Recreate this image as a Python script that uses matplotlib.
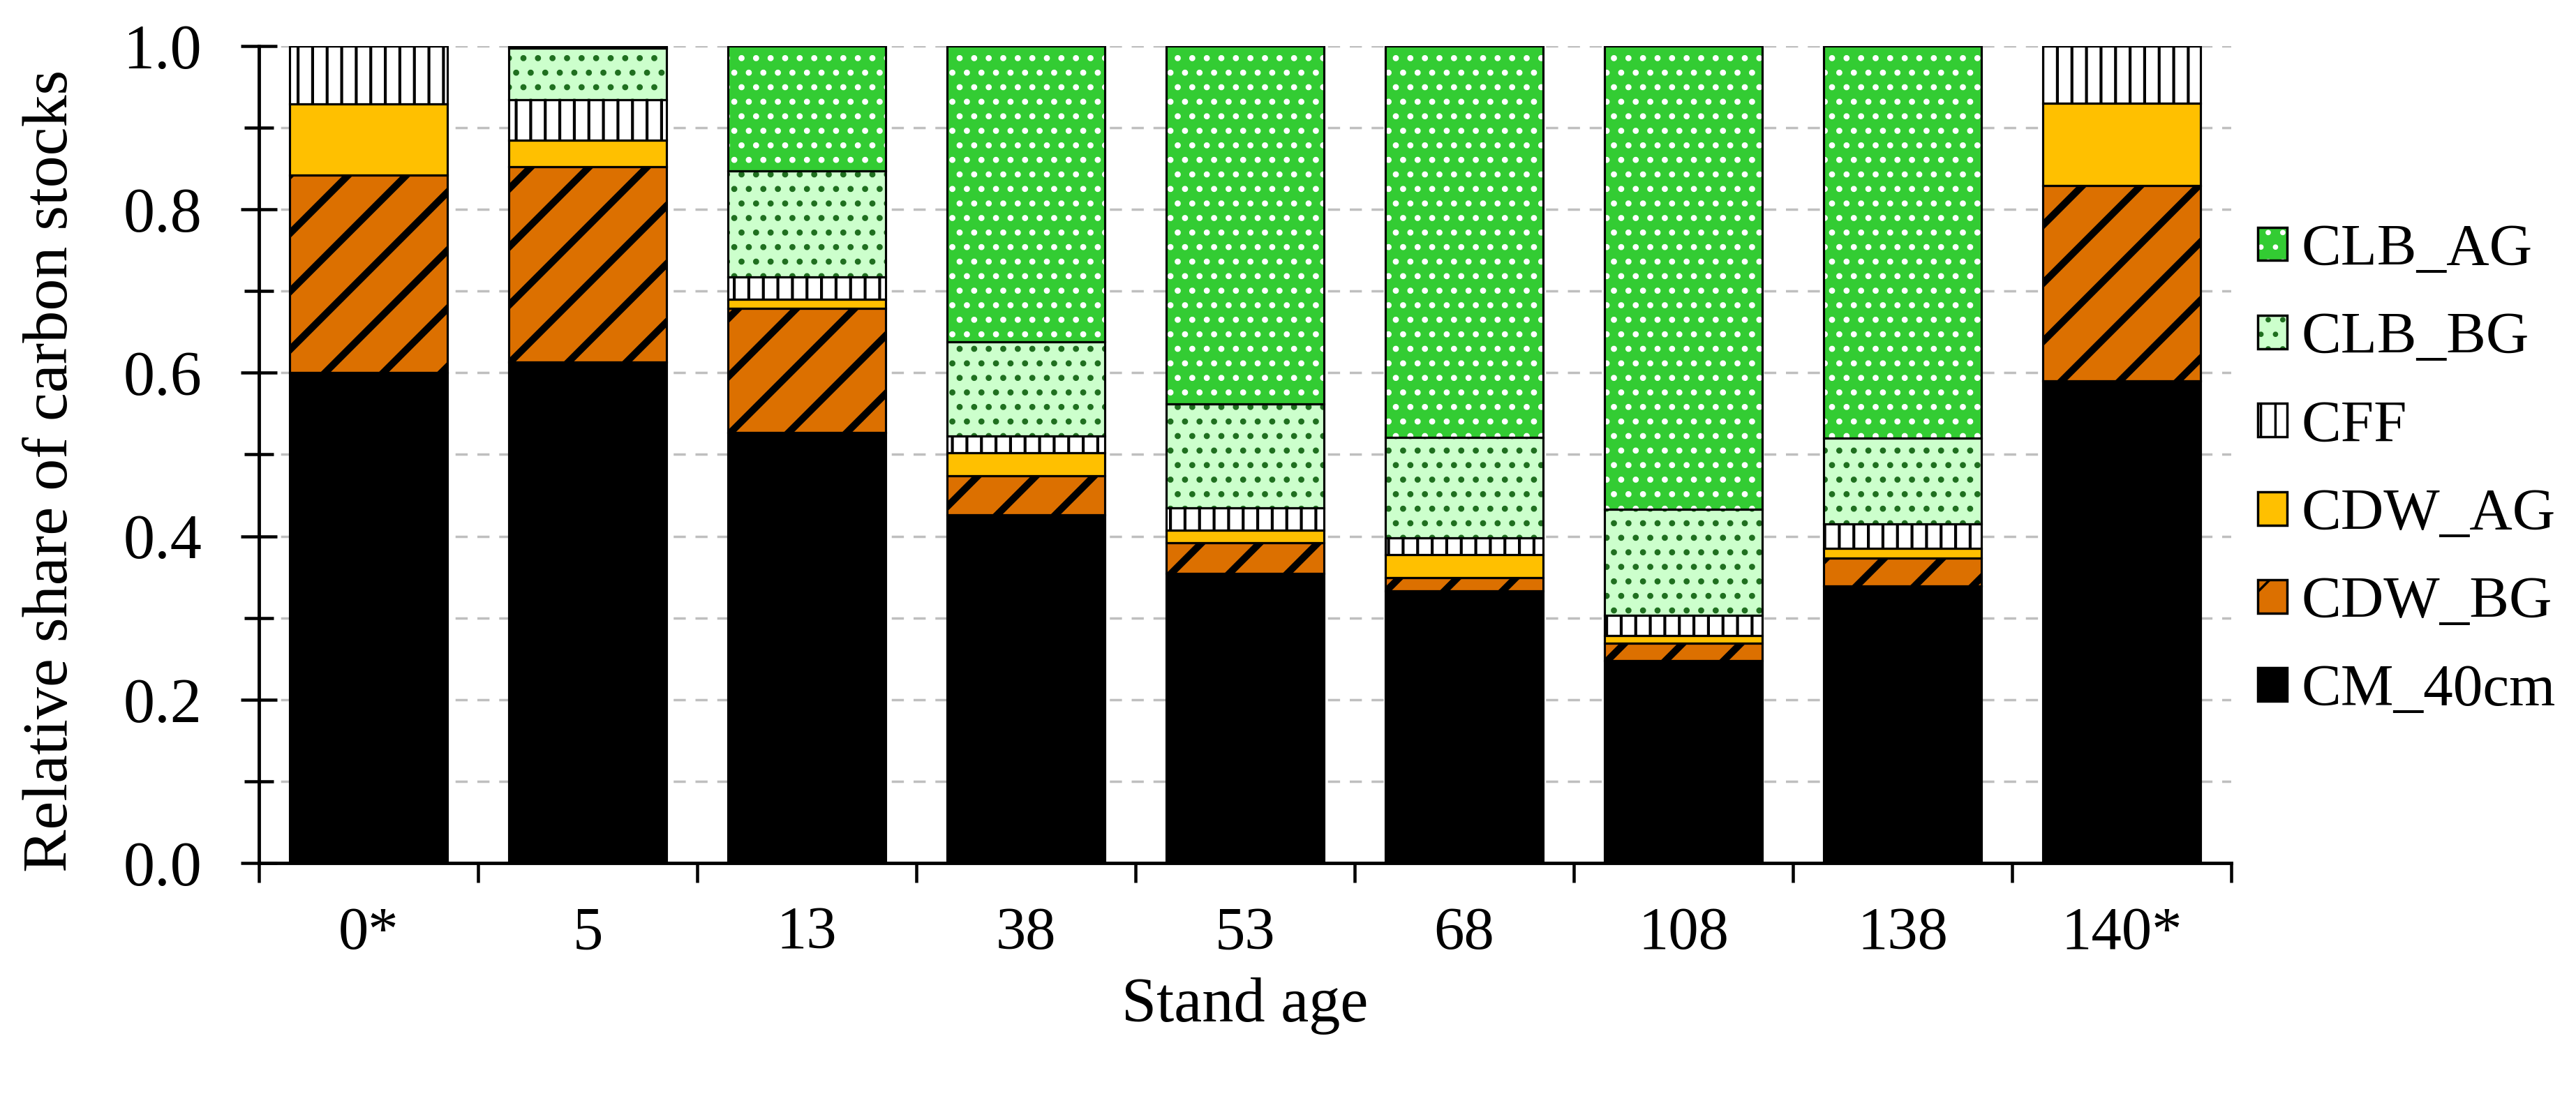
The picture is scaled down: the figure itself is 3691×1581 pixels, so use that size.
import numpy as np
import matplotlib
matplotlib.use("Agg")
import matplotlib.pyplot as plt
from matplotlib.patches import Patch
from matplotlib.legend_handler import HandlerTuple
from matplotlib.ticker import MultipleLocator

# relative share of carbon stocks per stand age
ages = ["0*", "5", "13", "38", "53", "68", "108", "138", "140*"]
cm_40cm = [0.600, 0.613, 0.527, 0.426, 0.354, 0.333, 0.248, 0.339, 0.590]
cdw_bg = [0.242, 0.239, 0.152, 0.048, 0.038, 0.016, 0.021, 0.034, 0.239]
cdw_ag = [0.087, 0.033, 0.011, 0.028, 0.015, 0.028, 0.009, 0.012, 0.101]
cff = [0.071, 0.049, 0.027, 0.021, 0.028, 0.021, 0.025, 0.030, 0.070]
clb_bg = [0.000, 0.063, 0.130, 0.115, 0.127, 0.123, 0.130, 0.105, 0.000]
clb_ag = [0.000, 0.003, 0.153, 0.362, 0.438, 0.479, 0.567, 0.480, 0.000]

plt.rcParams["font.family"] = ["Liberation Serif", "DejaVu Serif"]

# (name, values, face, hatch, hatch colour, hatch linewidth) bottom to top
layers = [
    ("CM_40cm", cm_40cm, "#000000", None, "#000000", 1.0),
    ("CDW_BG", cdw_bg, "#DC7000", "/", "#000000", 2.9),
    ("CDW_AG", cdw_ag, "#FFC000", None, "#000000", 1.0),
    ("CFF", cff, "#FFFFFF", "||", "#000000", 1.2),
    ("CLB_BG", clb_bg, "#CCFFCC", "..", "#1F6F1F", 1.3),
    ("CLB_AG", clb_ag, "#33CC33", "..", "#FFFFFF", 1.3),
]

fig = plt.figure(figsize=(3691 / 250, 1581 / 250), dpi=250)
ax = fig.add_axes([0.1005, 0.2176, 0.7657, 0.7407])

x = np.arange(len(ages))
width = 0.72
bottom = np.zeros(len(ages))
handles = []
for name, vals, face, hatch, hcol, hlw in layers:
    vals = np.array(vals)
    with plt.rc_context({"hatch.linewidth": hlw}):
        fill = ax.bar(x, vals, width, bottom=bottom, color=face,
                      edgecolor=hcol, linewidth=0, hatch=hatch, zorder=2)
        h1 = Patch(facecolor=face, edgecolor=hcol, linewidth=0, hatch=hatch)
    for p in list(fill) + [h1]:
        if hasattr(p, "set_hatch_linewidth"):
            p.set_hatch_linewidth(hlw)
    # black outline on top of the hatched fill
    ax.bar(x, vals, width, bottom=bottom, fill=False,
           edgecolor="black", linewidth=0.9, zorder=3)
    bottom += vals
    h2 = Patch(fill=False, edgecolor="black", linewidth=1.0)
    handles.append(((h1, h2), name))

ax.set_xlim(-0.5, len(ages) - 0.5)
ax.set_ylim(0, 1.0)

ax.set_xticks(x)
ax.set_xticklabels(ages, fontsize=25)
ax.set_xticks(np.arange(-0.5, len(ages), 1.0), minor=True)
ax.tick_params(axis="x", which="major", length=0, pad=18)
ax.tick_params(axis="x", which="minor", direction="out", length=8, width=1.3)

ax.yaxis.set_major_locator(MultipleLocator(0.2))
ax.yaxis.set_minor_locator(MultipleLocator(0.1))
ax.set_yticklabels([f"{v:.1f}" for v in ax.get_yticks()], fontsize=26)
ax.tick_params(axis="y", which="major", direction="inout", length=15, width=1.3, pad=16)
ax.tick_params(axis="y", which="minor", direction="inout", length=12, width=1.3)

for v in np.arange(0.1, 1.01, 0.1):
    ax.axhline(v, color="#BFBFBF", linewidth=1.0, linestyle=(0, (5, 4)), zorder=1)

for side in ["top", "right"]:
    ax.spines[side].set_visible(False)
for side in ["left", "bottom"]:
    ax.spines[side].set_linewidth(1.4)

ax.set_xlabel("Stand age", fontsize=26)
ax.set_ylabel("Relative share of carbon stocks", fontsize=26.5)
ax.xaxis.set_label_coords(0.5, -0.14)
ax.yaxis.set_label_coords(-0.0906, 0.48)

handles = handles[::-1]
ax.legend([h for h, _ in handles], [n for _, n in handles],
          handler_map={tuple: HandlerTuple(ndivide=1, pad=0)},
          loc="center left", bbox_to_anchor=(0.8765, 0.573),
          bbox_transform=fig.transFigure, frameon=False, fontsize=24.5,
          handlelength=0.49, handleheight=0.49, handletextpad=0.24,
          labelspacing=0.58, borderaxespad=0, borderpad=0)

fig.savefig("out.png", dpi=250)
